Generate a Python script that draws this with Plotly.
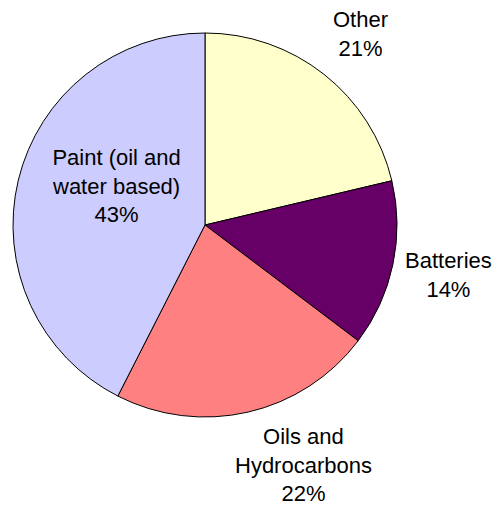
import plotly.graph_objects as go

labels = ["Other", "Batteries", "Oils and Hydrocarbons", "Paint (oil and water based)"]
label_lines = ["Other", "Batteries", "Oils and<br>Hydrocarbons", "Paint (oil and<br>water based)"]
values = [21.3, 14.0, 22.2, 42.5]
colors = ["#FFFFCC", "#660066", "#FF8080", "#CCCCFF"]

OFF = 8  # page body margin
W, H = 501 - OFF, 507 - OFF
# label centre positions in window pixels
label_pos = [(360, 34), (448, 275), (303, 465), (116, 186)]


def fx(px):
    return (px - OFF) / W


def fy(py):
    return 1 - (py - OFF) / H


total = sum(values)
pcts = [int(v / total * 100 + 0.5) for v in values]

fig = go.Figure(go.Pie(
    labels=labels, values=values, sort=False, direction="clockwise", rotation=0,
    marker=dict(colors=colors, line=dict(color="black", width=1)),
    textinfo="none", hoverinfo="label+percent", showlegend=False,
    domain=dict(x=[fx(13), fx(397)], y=[fy(417), fy(33)]),
))

for txt, p, (px, py) in zip(label_lines, pcts, label_pos):
    fig.add_annotation(
        text=f"{txt}<br>{p}%", x=fx(px), y=fy(py), xref="paper", yref="paper",
        xanchor="center", yanchor="middle", showarrow=False, align="center",
        font=dict(family="Liberation Sans, Arial", size=22, color="black"),
    )

fig.update_layout(
    width=W, height=H, margin=dict(l=0, r=0, t=0, b=0),
    paper_bgcolor="white", plot_bgcolor="white",
)
fig.write_html("out.html")
